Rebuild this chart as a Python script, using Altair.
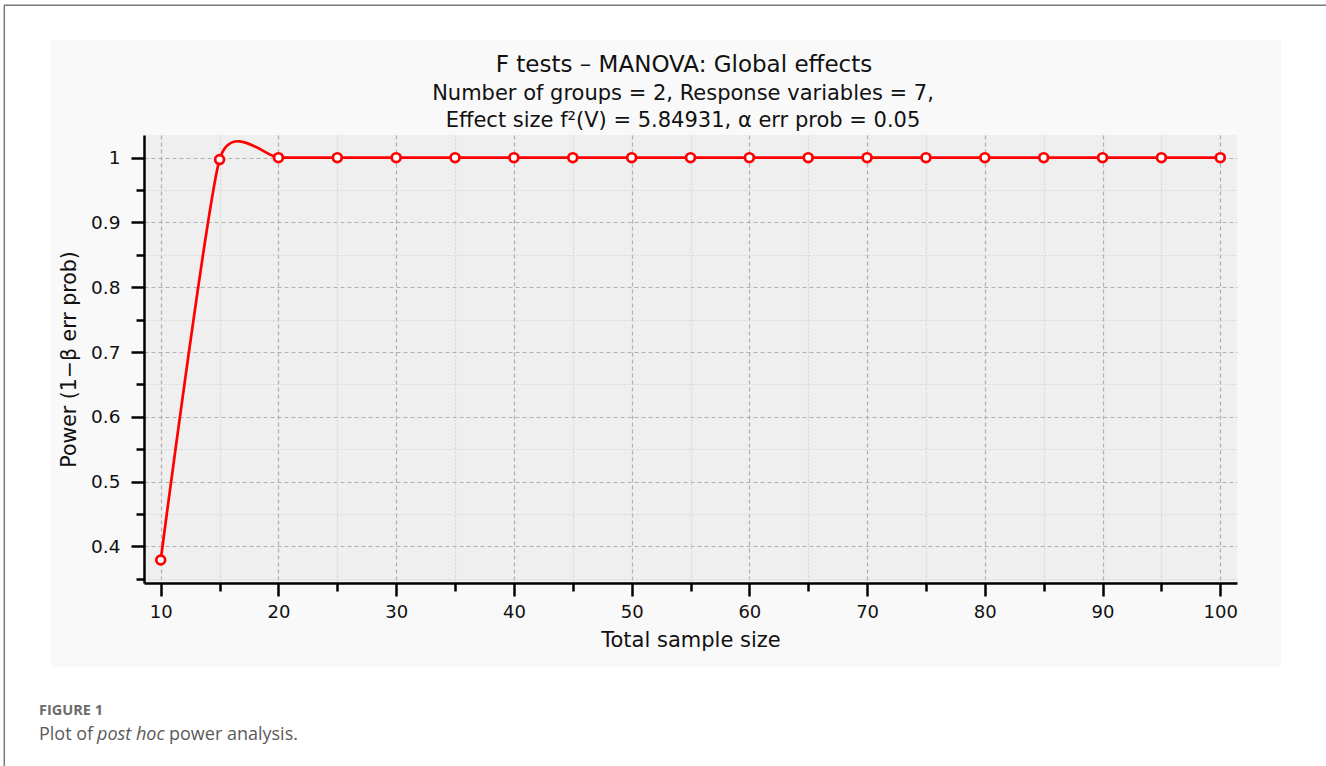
import altair as alt
import pandas as pd

# Power curve values
sample_size = [10, 15, 20, 25, 30, 35, 40, 45, 50, 55, 60, 65, 70, 75, 80, 85, 90, 95, 100]
power = [0.379, 0.997, 1, 1, 1, 1, 1, 1, 1, 1, 1, 1, 1, 1, 1, 1, 1, 1, 1]

# Axis tick positions (majors every 10 / 0.1, minors in between)
x_ticks = list(range(10, 101, 5))
y_ticks = [0.35, 0.4, 0.45, 0.5, 0.55, 0.6, 0.65, 0.7, 0.75, 0.8, 0.85, 0.9, 0.95, 1.0]

title_lines = [
    "F tests – MANOVA: Global effects",
    "Number of groups = 2, Response variables = 7,",
    "Effect size f²(V) = 5.84931, α err prob = 0.05",
]
caption_label = "FIGURE 1"
caption_parts = ["Plot of", "post hoc", "power analysis."]

FONT = "DejaVu Sans"
CAP_FONT = "Open Sans"
W, H = 1093, 448
PAD = {"left": 144, "top": 135, "right": 89, "bottom": 183}

df = pd.DataFrame({"n": sample_size, "power": power})
one = pd.DataFrame({"k": [0]})

x_major = "datum.value % 10 == 0"
y_major = "(datum.value * 20 + 0.5) % 2 < 1"

x_enc = alt.X(
    "n:Q",
    scale=alt.Scale(domain=[8.58, 101.42], nice=False, zero=False),
    axis=alt.Axis(
        values=x_ticks,
        tickCount=len(x_ticks) + 5,
        title="Total sample size",
        labelExpr=f"{x_major} ? datum.label : ''",
        tickSize={"condition": {"test": x_major, "value": 13}, "value": 8},
        gridColor={"condition": {"test": x_major, "value": "#b0b0b0"}, "value": "#d6d6d6"},
        gridDash={"condition": {"test": x_major, "value": [4, 3]}, "value": [2, 2]},
        gridWidth=1.2,
        domainColor="#000000",
        domainWidth=2.5,
        tickColor="#000000",
        tickWidth=2.5,
        labelFont=FONT,
        labelFontSize=18,
        labelColor="#111111",
        labelPadding=7,
        labelOverlap=False,
        labelFlush=False,
        titleFont=FONT,
        titleFontSize=21,
        titleFontWeight="normal",
        titleColor="#111111",
        titlePadding=8,
    ),
)

y_enc = alt.Y(
    "power:Q",
    scale=alt.Scale(domain=[0.3435, 1.035], nice=False, zero=False),
    axis=alt.Axis(
        values=y_ticks,
        tickCount=len(y_ticks) + 5,
        format="~g",
        title="Power (1−β err prob)",
        labelExpr=f"{y_major} ? datum.label : ''",
        tickSize={"condition": {"test": y_major, "value": 13}, "value": 8},
        gridColor={"condition": {"test": y_major, "value": "#b0b0b0"}, "value": "#d6d6d6"},
        gridDash={"condition": {"test": y_major, "value": [4, 3]}, "value": [2, 2]},
        gridWidth=1.2,
        domainColor="#000000",
        domainWidth=2.5,
        tickColor="#000000",
        tickWidth=2.5,
        labelFont=FONT,
        labelFontSize=18.5,
        labelColor="#111111",
        labelPadding=11,
        labelOverlap=False,
        labelFlush=False,
        titleFont=FONT,
        titleFontSize=20.5,
        titleFontWeight="normal",
        titleColor="#111111",
        titlePadding=11,
    ),
)

base = alt.Chart(df)
curve = base.mark_line(
    interpolate="cardinal", tension=0.4, color="#ff0000", strokeWidth=2.7
).encode(x=x_enc, y=y_enc)
dots = base.mark_point(
    shape="circle", size=78, filled=False, fill="#ffffff", fillOpacity=1,
    stroke="#ff0000", strokeWidth=2.7, opacity=1
).encode(x="n:Q", y="power:Q")


def strip(x0, x1, y0, y1):
    return alt.Chart(one).mark_rect(color="#ffffff").encode(
        x=alt.value(x0), x2=alt.value(x1), y=alt.value(y0), y2=alt.value(y1)
    )


# white page around the light-grey figure panel
strips = [
    strip(-PAD["left"], W + PAD["right"], -PAD["top"], -95),
    strip(-PAD["left"], -94, -PAD["top"], H + PAD["bottom"]),
    strip(1137, W + PAD["right"], -PAD["top"], H + PAD["bottom"]),
    strip(-PAD["left"], W + PAD["right"], 532, H + PAD["bottom"]),
]

frame_top = alt.Chart(one).mark_rule(color="#7a7a7a", strokeWidth=1.5).encode(
    x=alt.value(-140), x2=alt.value(W + PAD["right"]), y=alt.value(-129.7)
)
frame_left = alt.Chart(one).mark_rule(color="#7a7a7a", strokeWidth=1.5).encode(
    x=alt.value(-139.7), y=alt.value(-129.7), y2=alt.value(H + PAD["bottom"])
)


def text(s, x, y, size, font=FONT, color="#111111", align="center", style="normal", weight="normal"):
    return alt.Chart(pd.DataFrame({"t": [s]})).mark_text(
        font=font, fontSize=size, color=color, align=align, baseline="alphabetic",
        fontStyle=style, fontWeight=weight
    ).encode(text="t:N", x=alt.value(x), y=alt.value(y))


titles = [
    text(title_lines[0], 540, -63, 23),
    text(title_lines[1], 539, -35, 21),
    text(title_lines[2], 539, -8, 21),
]

caption = [
    text(caption_label, -105, 580, 14.5, font=CAP_FONT, color="#6b6b6b", align="left", weight=700),
    text(caption_parts[0], -105, 605, 18, font=CAP_FONT, color="#5a5a5a", align="left"),
    text(caption_parts[1], -47, 605, 18, font=CAP_FONT, color="#5a5a5a", align="left", style="italic"),
    text(caption_parts[2], 25, 605, 18, font=CAP_FONT, color="#5a5a5a", align="left"),
]

chart = alt.layer(
    curve, dots, *strips, frame_top, frame_left, *titles, *caption
).properties(
    width=W,
    height=H,
    padding=PAD,
    autosize=alt.AutoSizeParams(type="none"),
    background="#f9f9f9",
).configure_view(
    fill="#efefef", stroke=None
)

chart.save("out.html", embed_options={"renderer": "svg", "actions": False})
